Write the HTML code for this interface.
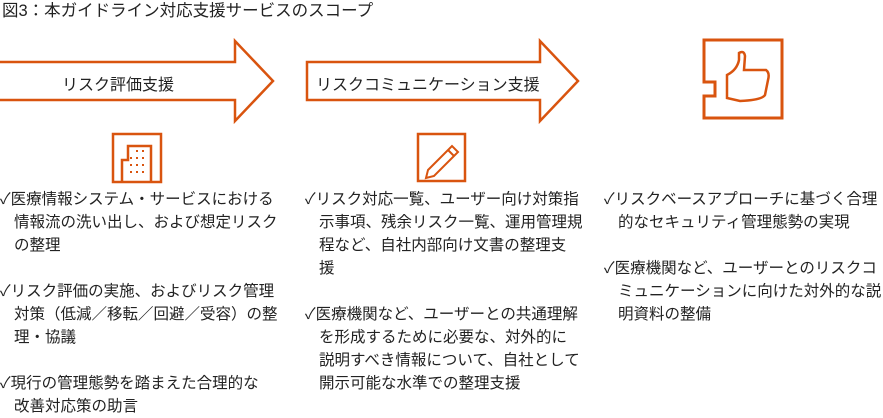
<!DOCTYPE html><html><head><meta charset="utf-8"><style>
body{margin:0;width:883px;height:410px;background:#fff;position:relative;overflow:hidden;font-family:"Liberation Sans","Noto Sans CJK JP",sans-serif;color:#222}
.t{position:absolute;font-size:15.5px;line-height:23px;white-space:nowrap}
.t div{padding-left:14px}
.t div.f{padding-left:0}
.lab{position:absolute;font-size:16px}
</style></head><body>
<div class="t" style="left:2px;top:0px;font-size:16.5px">図3：本ガイドライン対応支援サービスのスコープ</div>
<svg width="883" height="410" style="position:absolute;left:0;top:0">
<g fill="none" stroke="#d9540f" stroke-width="2.5">
<path d="M-2 62 H235 V41 L273 81 L235 121 V100 H-2"/>
<path d="M307 62 H540 V41 L578 81 L540 121 V100 H307 Z"/>
<rect x="113" y="134" width="48" height="48"/>
<path d="M122 182 V160 H128 V146 H151 V182"/>
<rect x="418" y="134" width="47" height="47"/>
<path d="M704 40 H782 V118 H704 V96 H715 V82 H704 Z" stroke-width="3"/>
<path d="M727 98 V75 Q737 70 739 60 V53 Q744 50 745 56 L744 70 H766 Q770 73 768 80 L765 95 Q762 100 740 101 Z"/>
</g>
<g stroke="#d9540f" stroke-width="2">
<path d="M428 170 L452 146 L458 152 L434 176 L426 178 Z" fill="none"/>
<line x1="448" y1="150" x2="454" y2="156"/>
</g>
<g fill="#d9540f">
<rect x="136" y="150" width="2" height="2"/><rect x="142" y="150" width="2" height="2"/>
<rect x="136" y="157" width="2" height="2"/><rect x="142" y="157" width="2" height="2"/><rect x="130" y="157" width="2" height="2"/>
<rect x="136" y="164" width="2" height="2"/><rect x="142" y="164" width="2" height="2"/><rect x="130" y="164" width="2" height="2"/>
<rect x="136" y="171" width="2" height="2"/><rect x="142" y="171" width="2" height="2"/><rect x="130" y="171" width="2" height="2"/>
</g>
</svg>
<div class="lab" style="left:62px;top:71px">リスク評価支援</div>
<div class="lab" style="left:316px;top:71px">リスクコミュニケーション支援</div>
<div class="t" style="left:0;top:188px"><div class="f">✓医療情報システム・サービスにおける</div><div>情報流の洗い出し、および想定リスク</div><div>の整理</div></div>
<div class="t" style="left:0;top:280px"><div class="f">✓リスク評価の実施、およびリスク管理</div><div>対策（低減／移転／回避／受容）の整</div><div>理・協議</div></div>
<div class="t" style="left:0;top:372px"><div class="f">✓現行の管理態勢を踏まえた合理的な</div><div>改善対応策の助言</div></div>
<div class="t" style="left:305px;top:188px"><div class="f">✓リスク対応一覧、ユーザー向け対策指</div><div>示事項、残余リスク一覧、運用管理規</div><div>程など、自社内部向け文書の整理支</div><div>援</div></div>
<div class="t" style="left:305px;top:303px"><div class="f">✓医療機関など、ユーザーとの共通理解</div><div>を形成するために必要な、対外的に</div><div>説明すべき情報について、自社として</div><div>開示可能な水準での整理支援</div></div>
<div class="t" style="left:604px;top:188px"><div class="f">✓リスクベースアプローチに基づく合理</div><div>的なセキュリティ管理態勢の実現</div></div>
<div class="t" style="left:604px;top:257px"><div class="f">✓医療機関など、ユーザーとのリスクコ</div><div>ミュニケーションに向けた対外的な説</div><div>明資料の整備</div></div>
</body></html>
